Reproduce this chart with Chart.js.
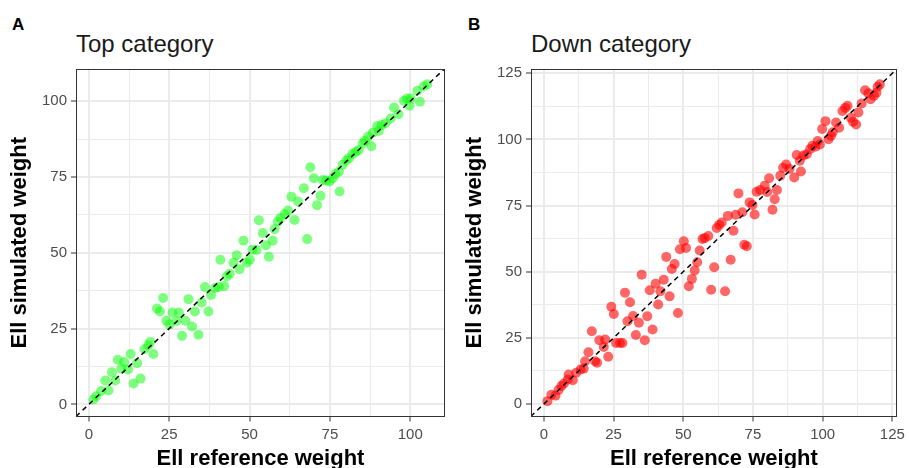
<!DOCTYPE html>
<html>
<head>
<meta charset="utf-8">
<script src="https://cdn.jsdelivr.net/npm/chart.js@4"></script>
<style>
  body { margin: 0; background: #fff; width: 909px; height: 468px; overflow: hidden; position: relative; font-family: "Liberation Sans", Arial, sans-serif; }
  canvas { position: absolute; top: 0; }
  .tag { position: absolute; font-weight: bold; font-size: 17px; line-height: 17px; color: #000; }
  .title { position: absolute; font-size: 24px; line-height: 24px; color: #1a1a1a; }
</style>
</head>
<body>
<div class="tag" style="left:12px;top:16px">A</div>
<div class="title" style="left:76px;top:32px">Top category</div>
<div class="tag" style="left:468px;top:16px">B</div>
<div class="title" style="left:531px;top:32px">Down category</div>
<canvas id="chartTop" width="455" height="472" style="left:0"></canvas>
<canvas id="chartDown" width="454" height="472" style="left:455px"></canvas>
<script>
const FONT = '"Liberation Sans", Arial, sans-serif';

// Top category: reference weight vs simulated weight
const topRef = [1.4, 2.3, 3.8, 6.1, 5.1, 7.2, 8.2, 9.0, 10.1, 11.0, 13.0, 12.2, 15.0, 13.9, 16.1, 17.3, 18.5, 19.1, 20.1,
  21.2, 22.1, 23.1, 24.1, 25.1, 26.0, 28.0, 27.2, 29.0, 30.0, 31.0, 32.1, 33.0, 34.1, 35.1, 36.1, 37.2, 38.0, 39.3,
  40.4, 40.9, 42.1, 42.9, 43.8, 45.0, 46.0, 46.9, 48.1, 49.1, 50.1, 50.9, 52.2, 52.9, 54.1, 55.1, 56.0, 57.2, 57.8,
  58.8, 59.6, 60.9, 62.0, 63.0, 64.0, 65.1, 66.9, 67.9, 68.9, 70.0, 71.0, 72.1, 72.8, 73.8, 74.9, 75.9, 76.7, 77.8,
  78.0, 79.0, 80.1, 80.9, 82.1, 83.0, 84.0, 85.2, 85.9, 86.9, 87.9, 88.3, 89.7, 90.2, 91.1, 92.3, 93.9, 94.9, 96.3,
  98.0, 99.0, 99.8, 100.1, 102.2, 103.0, 104.2, 105.3];
const topSim = [1.6, 2.7, 4.4, 4.6, 7.9, 10.6, 7.9, 14.7, 11.8, 14.0, 16.6, 11.5, 13.6, 6.9, 8.5, 18.2, 19.5, 20.6, 16.6,
  31.6, 30.6, 35.1, 27.6, 26.3, 30.3, 30.3, 27.5, 22.6, 27.6, 34.7, 25.7, 30.6, 23.0, 33.6, 38.7, 30.6, 36.1, 38.4,
  38.7, 47.7, 39.0, 42.2, 43.1, 46.7, 49.2, 44.6, 54.0, 46.7, 47.7, 51.0, 50.9, 60.7, 56.5, 52.5, 48.7, 54.0, 57.8,
  60.3, 61.5, 62.8, 63.9, 68.5, 60.8, 66.9, 71.3, 54.5, 78.2, 74.6, 65.7, 68.8, 74.0, 73.8, 73.5, 74.6, 76.0, 76.7,
  70.2, 79.0, 80.4, 81.2, 82.6, 83.3, 83.9, 86.1, 86.9, 88.3, 85.1, 89.6, 91.8, 90.2, 92.1, 92.7, 94.3, 97.9, 95.7,
  100.1, 100.9, 98.5, 100.9, 103.4, 99.8, 104.9, 105.6];

// Down category
const downRef = [1.3, 2.7, 4.2, 5.3, 6.3, 7.2, 8.6, 8.9, 10.4, 11.6, 13.2, 14.3, 14.8, 16.0, 17.2, 18.4, 19.1, 19.9,
  21.5, 22.0, 23.1, 24.2, 25.1, 25.9, 27.3, 28.2, 29.1, 30.0, 30.9, 32.0, 33.0, 34.1, 35.1, 36.2, 37.1, 38.0, 39.0,
  40.1, 41.0, 41.8, 43.0, 43.9, 45.1, 45.9, 46.9, 48.1, 48.8, 50.2, 51.0, 52.0, 53.1, 54.1, 55.0, 55.9, 56.9, 57.7,
  59.0, 60.0, 61.1, 62.0, 62.9, 63.8, 65.0, 66.0, 67.0, 68.0, 68.8, 69.8, 71.2, 71.9, 72.8, 73.8, 74.8, 75.6, 76.3,
  77.6, 79.2, 80.1, 80.8, 82.0, 82.8, 83.6, 84.8, 85.8, 86.9, 88.1, 89.8, 90.7, 91.8, 92.2, 93.1, 94.3, 95.5, 96.3,
  97.4, 98.2, 99.0, 99.8, 101.0, 102.1, 103.0, 103.6, 104.8, 105.9, 107.1, 108.1, 108.9, 110.1, 110.9, 112.0, 112.8,
  114.0, 115.2, 116.4, 117.2, 118.4, 119.3, 119.7, 120.5];
const downSim = [1.1, 3.5, 3.2, 5.3, 6.8, 7.8, 9.3, 11.2, 9.0, 11.8, 13.1, 13.4, 16.2, 19.6, 27.5, 16.2, 15.6, 24.1,
  21.6, 24.4, 17.9, 36.8, 34.0, 23.1, 23.1, 23.1, 42.1, 31.3, 38.5, 33.3, 26.1, 30.7, 48.9, 24.1, 33.2, 43.0, 28.2,
  45.5, 37.6, 42.6, 47.0, 55.6, 40.7, 51.0, 52.9, 34.4, 58.5, 61.5, 59.0, 44.5, 47.3, 50.5, 53.6, 58.0, 62.4, 62.7,
  63.5, 43.2, 51.7, 66.5, 67.7, 68.6, 42.6, 71.1, 54.5, 65.5, 71.5, 79.6, 72.5, 60.2, 59.6, 76.2, 75.2, 71.6, 80.2,
  80.9, 82.5, 80.1, 85.3, 73.4, 77.4, 80.9, 86.3, 89.3, 90.5, 88.8, 85.6, 94.1, 91.9, 87.9, 93.9, 94.4, 96.4, 97.6,
  97.2, 99.4, 98.1, 103.9, 106.9, 100.1, 101.4, 102.7, 106.4, 104.4, 110.7, 111.9, 112.7, 108.2, 106.7, 105.6, 110.2,
  113.6, 118.6, 117.4, 115.2, 116.5, 117.6, 119.9, 120.8];

const topTicks = [0, 25, 50, 75, 100];
const downTicks = [0, 25, 50, 75, 100, 125];
const topXLimits = [-4, 110.8];
const topYLimits = [-4, 110.6];
const downXLimits = [-4.6, 126.6];
const downYLimits = [-4.7, 126.6];

const panelBorder = {
  id: 'panelBorder',
  afterDraw(chart) {
    const {ctx, chartArea: a} = chart;
    ctx.save();
    ctx.strokeStyle = '#333333';
    ctx.lineWidth = 1;
    const l = Math.round(a.left) + 0.5, t = Math.round(a.top) + 0.5;
    ctx.strokeRect(l, t, Math.round(a.right) - Math.round(a.left) - 1, Math.round(a.bottom) - Math.round(a.top) - 1);
    ctx.restore();
  }
};

function isMajor(ctx) {
  return ctx.tick && ctx.tick.value % 25 === 0;
}

function axisOptions(title, majors, limits, isX) {
  return {
    type: 'linear',
    min: limits[0],
    max: limits[1],
    afterBuildTicks: (scale) => {
      let values = [];
      majors.forEach(v => {
        values.push(v);
        if (v + 12.5 < limits[1]) values.push(v + 12.5);
      });
      scale.ticks = values.map(v => ({value: v}));
    },
    afterFit: (scale) => {
      if (isX) scale.height = 55.5;
      else scale.width = 76;
    },
    grid: {
      color: '#EBEBEB',
      lineWidth: c => isMajor(c) ? 2 : 1,
      tickColor: c => isMajor(c) ? '#333333' : 'rgba(0,0,0,0)',
      tickLength: 5,
      tickWidth: 1
    },
    border: {display: false},
    ticks: {
      autoSkip: false,
      maxRotation: 0,
      padding: 4,
      color: '#4D4D4D',
      font: {family: FONT, size: 15},
      callback: v => v % 25 === 0 ? String(v) : ''
    },
    title: {
      display: true,
      text: title,
      color: '#000',
      font: {family: FONT, size: 22, weight: 'bold'},
      padding: {top: 7, bottom: 0}
    }
  };
}

function buildChart(id, ref, sim, color, majors, xLimits, yLimits, padRight) {
  let points = ref.map((x, i) => ({x: x, y: sim[i]}));
  let lo = Math.min(xLimits[0], yLimits[0]);
  let hi = Math.max(xLimits[1], yLimits[1]);
  return new Chart(document.getElementById(id), {
    type: 'scatter',
    data: {
      datasets: [
        {
          data: [{x: lo, y: lo}, {x: hi, y: hi}],
          showLine: true,
          borderColor: '#000',
          borderWidth: 1.5,
          borderDash: [5, 4],
          pointRadius: 0,
          clip: 0,
          order: 0
        },
        {
          data: points,
          pointRadius: 5,
          pointBackgroundColor: color,
          pointBorderWidth: 0,
          order: 1
        }
      ]
    },
    options: {
      responsive: false,
      animation: false,
      events: [],
      layout: {padding: {top: 69, right: padRight, bottom: 0, left: 0}},
      plugins: {legend: {display: false}, tooltip: {enabled: false}},
      scales: {
        x: axisOptions('Ell reference weight', majors, xLimits, true),
        y: axisOptions('Ell simulated weight', majors, yLimits, false)
      }
    },
    plugins: [panelBorder]
  });
}

buildChart('chartTop', topRef, topSim, 'rgba(0,255,0,0.5)', topTicks, topXLimits, topYLimits, 10);
buildChart('chartDown', downRef, downSim, 'rgba(255,0,0,0.6)', downTicks, downXLimits, downYLimits, 9);
</script>
</body>
</html>
